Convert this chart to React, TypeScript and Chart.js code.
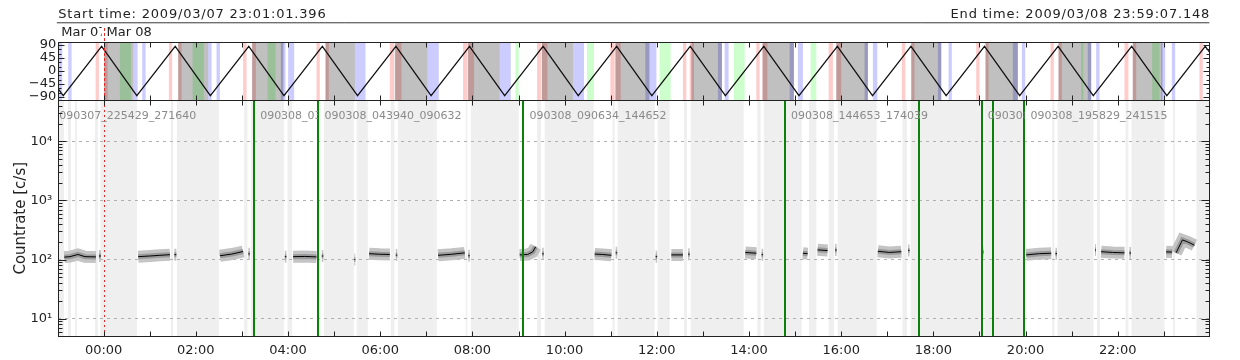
import React, { useEffect, useRef } from 'react';
import { Chart, registerables } from 'chart.js';

Chart.register(...registerables);

const FONT = "'DejaVu Sans', sans-serif";

// time axis in hours relative to 2009/03/08 00:00
const timeMin = -0.983;
const timeMax = 23.985;
const startLabel = 'Start time: 2009/03/07 23:01:01.396';
const endLabel = 'End time: 2009/03/08 23:59:07.148';
const dayLabels = ['Mar 07', 'Mar 08'];
const dayStarts = [-0.983, 0];
const dayBoundary = 0;

const hourTicks = [0, 2, 4, 6, 8, 10, 12, 14, 16, 18, 20, 22];
const hourTickLabels = ['00:00', '02:00', '04:00', '06:00', '08:00', '10:00', '12:00', '14:00', '16:00', '18:00', '20:00', '22:00'];
const angleTicks = [-90, -45, 0, 45, 90];
const angleTickLabels = ['\u221290', '\u221245', '0', '45', '90'];
const rateTicks = [10, 100, 1000, 10000];
const rateTickLabels = ['10\u00b9', '10\u00b2', '10\u00b3', '10\u2074'];

// top panel: orbit angle (triangle) vertices
const angleT = [-0.983, -0.876, -0.043, 0.720, 1.553, 2.316, 3.149, 3.912, 4.745, 5.508, 6.341, 7.104, 7.937, 8.700, 9.533, 10.296, 11.129, 11.892, 12.725, 13.488, 14.321, 15.084, 15.917, 16.680, 17.513, 18.276, 19.109, 19.872, 20.705, 21.468, 22.301, 23.064, 23.897, 23.985];
const angleV = [-62, -85, 85, -85, 85, -85, 85, -85, 85, -85, 85, -85, 85, -85, 85, -85, 85, -85, 85, -85, 85, -85, 85, -85, 85, -85, 85, -85, 85, -85, 85, -85, 85, 66];

// top panel shaded intervals [start, end] in hours
const grayBands = [[0.013, 0.642], [1.618, 2.268], [3.222, 3.900], [4.814, 5.450], [6.316, 7.025], [7.906, 8.593], [9.510, 10.182], [11.102, 11.840], [12.750, 13.413], [14.296, 14.974], [15.894, 16.579], [17.520, 18.171], [19.131, 19.832], [20.714, 21.423], [22.325, 22.968]];
const pinkBands = [[-0.173, -0.102], [0.013, 0.087], [1.416, 1.487], [1.618, 1.691], [3.027, 3.101], [3.222, 3.302], [4.618, 4.690], [4.814, 4.885], [6.208, 6.301], [6.330, 6.462], [7.797, 7.892], [7.906, 8.036], [9.402, 9.497], [9.510, 9.627], [10.993, 11.086], [11.102, 11.217], [12.568, 12.641], [12.714, 12.807], [14.159, 14.230], [14.289, 14.398], [15.727, 15.820], [15.894, 16.002], [17.316, 17.390], [17.520, 17.591], [18.929, 19.001], [19.131, 19.196], [20.541, 20.612], [20.714, 20.786], [22.145, 22.231], [22.325, 22.399], [23.771, 23.843]];
const blueBands = [[-0.983, -0.898], [-0.768, -0.694], [0.642, 0.737], [0.837, 0.911], [2.268, 2.342], [2.450, 2.522], [3.844, 3.946], [4.003, 4.133], [5.449, 5.681], [7.025, 7.270], [8.593, 8.832], [10.182, 10.421], [11.752, 11.991], [13.326, 13.413], [13.472, 13.558], [14.881, 14.974], [15.061, 15.169], [16.507, 16.579], [16.687, 16.783], [18.097, 18.171], [18.329, 18.400], [19.723, 19.832], [19.919, 19.992], [21.349, 21.423], [21.531, 21.603], [22.941, 23.028], [23.172, 23.244]];
const greenBands = [[0.353, 0.592], [1.930, 2.175], [3.556, 3.730], [8.933, 9.005], [10.486, 10.638], [12.062, 12.301], [13.673, 13.905], [15.337, 15.460], [21.203, 21.253], [22.746, 22.905]];

// main panel: no-data (light gray) intervals
const idleBands = [[-0.983, -0.861], [-0.774, -0.709], [-0.622, -0.579], [-0.189, -0.124], [-0.069, 0.722], [1.46, 1.51], [1.589, 2.500], [3.05, 3.12], [3.194, 3.910], [3.99, 4.09], [4.64, 4.71], [4.778, 5.428], [5.49, 5.73], [6.23, 6.31], [6.381, 7.227], [7.855, 7.89], [7.964, 9.005], [9.40, 9.49], [9.569, 10.631], [11.04, 11.085], [11.151, 11.954], [12.019, 12.279], [12.59, 12.655], [12.735, 13.884], [14.18, 14.25], [14.318, 15.142], [15.30, 15.46], [15.73, 15.845], [15.923, 16.769], [17.33, 17.425], [17.506, 19.045], [19.110, 19.978], [20.58, 20.625], [20.693, 21.473], [21.55, 21.615], [22.17, 22.23], [22.297, 23.012], [23.20, 23.24], [23.706, 23.985]];

// count rate (running mean), null = gap
const rateT = [-0.854, -0.731, -0.557, -0.405, -0.167, -0.13, -0.102, -0.059, 0.3,
  0.750, 1.004, 1.221, 1.439, 1.49, 1.535, 1.578, 2.0,
  2.522, 2.782, 3.027, 3.08, 3.140, 3.172, 3.5,
  3.931, 3.964, 4.05, 4.111, 4.365, 4.618, 4.68, 4.733, 4.766, 5.1,
  5.438, 5.460, 5.6, 5.759, 5.991, 6.208, 6.27, 6.338, 6.370, 6.8,
  7.255, 7.552, 7.834, 7.87, 7.910, 7.942, 8.5,
  9.026, 9.200, 9.308, 9.373, 9.44, 9.514, 9.547, 10.1,
  10.653, 10.826, 11.015, 11.06, 11.108, 11.141, 11.5,
  11.975, 12.007, 12.15, 12.316, 12.567, 12.62, 12.680, 12.712, 13.3,
  13.920, 14.159, 14.21, 14.273, 14.306, 14.7,
  15.169, 15.271, 15.38, 15.488, 15.704, 15.78, 15.867, 15.900, 16.3,
  16.795, 17.049, 17.303, 17.38, 17.450, 17.482, 18.3,
  19.065, 19.087, 19.5,
  20.013, 20.301, 20.555, 20.6, 20.648, 20.681, 21.1,
  21.505, 21.526, 21.58, 21.639, 21.884, 22.144, 22.2, 22.253, 22.286, 22.7,
  23.049, 23.179, 23.22, 23.265, 23.402, 23.510, 23.662];
const rateV = [110, 112, 122, 112, 111, null, 115, 115, null,
  112, 115, 118, 121, null, 121, 121, null,
  116, 124, 137, null, 125, 125, null,
  112, 112, null, 112, 113, 111, null, 115, 115, null,
  100, 100, null, 126, 123, 122, null, 119, 119, null,
  118, 123, 130, null, 116, 116, null,
  120, 122, 135, 165, null, 125, 125, null,
  124, 122, 118, null, 130, 130, null,
  112, 112, null, 120, 120, null, 123, 123, null,
  132, 128, null, 121, 121, null,
  128, 126, null, 146, 142, null, 145, 145, null,
  138, 132, 136, null, 143, 143, null,
  134, 134, null,
  120, 126, 128, null, 126, 126, null,
  145, 145, null, 136, 132, 130, null, 129, 129, null,
  135, 134, null, 130, 215, 200, 175];

// observation segments (label, start, label clip end) and boundary lines
const segLabels = ['090307_225429_271640', '090308_031642_043938', '090308_043940_090632', '090308_090634_144652', '090308_144653_174039', '090308_190301_195827', '090308_195829_241515'];
const segStart = [-1.092, 3.265, 4.661, 9.109, 14.781, 19.050, 19.975];
const segEnd = [3.265, 4.653, 9.098, 14.787, 19.050, 19.976, 24.254];
const greenLines = [3.265, 4.653, 9.098, 14.787, 17.677, 19.050, 19.303, 19.976];

function fillBands(ctx: any, x: any, a: any, bands: number[][], color: string) {
  ctx.fillStyle = color;
  for (const [s, e] of bands) {
    const x0 = x.getPixelForValue(s);
    const x1 = x.getPixelForValue(e);
    ctx.fillRect(x0, a.top, x1 - x0, a.bottom - a.top);
  }
}

function frameAndTicks(ctx: any, chart: any, yTickList: { v: number; len: number }[]) {
  const a = chart.chartArea;
  const x = chart.scales.x;
  const y = chart.scales.y;
  const L = Math.floor(a.left) + 0.5;
  const R = Math.floor(a.right) + 0.5;
  const T = Math.floor(a.top) + 0.5;
  const B = Math.floor(a.bottom) + 0.5;
  ctx.save();
  ctx.strokeStyle = '#222';
  ctx.lineWidth = 1;
  ctx.strokeRect(L, T, R - L, B - T);
  ctx.beginPath();
  for (let h = Math.ceil(timeMin); h <= Math.floor(timeMax); h++) {
    const px = Math.round(x.getPixelForValue(h)) + 0.5;
    ctx.moveTo(px, T); ctx.lineTo(px, T + 5);
    ctx.moveTo(px, B); ctx.lineTo(px, B - 5);
  }
  for (const t of yTickList) {
    const py = Math.round(y.getPixelForValue(t.v)) + 0.5;
    if (py < T - 0.1 || py > B + 0.1) continue;
    ctx.moveTo(L, py); ctx.lineTo(L + t.len, py);
    ctx.moveTo(R, py); ctx.lineTo(R - t.len, py);
  }
  ctx.stroke();
  ctx.restore();
}

const noPad = (s: any) => { s.paddingTop = 0; s.paddingBottom = 0; s.paddingLeft = 0; s.paddingRight = 0; };

const topDeco = {
  id: 'topDeco',
  beforeDatasetsDraw(chart: any) {
    const { ctx, chartArea: a, scales: { x } } = chart;
    ctx.save();
    ctx.beginPath();
    ctx.rect(a.left, a.top, a.right - a.left, a.bottom - a.top);
    ctx.clip();
    ctx.fillStyle = '#fff';
    ctx.fillRect(a.left, a.top, a.right - a.left, a.bottom - a.top);
    ctx.globalCompositeOperation = 'multiply';
    fillBands(ctx, x, a, grayBands, '#c0c0c0');
    fillBands(ctx, x, a, greenBands, '#ccffcc');
    fillBands(ctx, x, a, blueBands, '#ccccff');
    fillBands(ctx, x, a, pinkBands, '#ffcccc');
    ctx.restore();
  },
  afterDraw(chart: any) {
    const { ctx, chartArea: a, scales: { x } } = chart;
    ctx.save();
    ctx.fillStyle = '#222';
    ctx.font = `13px ${FONT}`;
    ctx.textBaseline = 'alphabetic';
    (ctx as any).letterSpacing = '0.8px';
    ctx.textAlign = 'left';
    ctx.fillText(startLabel, a.left, 18);
    ctx.textAlign = 'right';
    ctx.fillText(endLabel, a.right + 0.8, 18);
    (ctx as any).letterSpacing = '0px';
    ctx.lineWidth = 1;
    ctx.strokeStyle = '#707070';
    ctx.beginPath(); ctx.moveTo(a.left - 1.5, 22.5); ctx.lineTo(a.right, 22.5); ctx.stroke();
    ctx.strokeStyle = '#c8c8c8';
    ctx.beginPath(); ctx.moveTo(a.left - 1.5, 23.5); ctx.lineTo(a.right, 23.5); ctx.stroke();
    ctx.textAlign = 'left';
    ctx.font = `13px ${FONT}`;
    for (let i = 0; i < dayLabels.length; i++) {
      const x0 = x.getPixelForValue(dayStarts[i]) + 3;
      const x1 = i + 1 < dayStarts.length ? x.getPixelForValue(dayStarts[i + 1]) - 2 : a.right;
      ctx.save();
      ctx.beginPath(); ctx.rect(x0 - 1, 24, x1 - x0 + 1, 17); ctx.clip();
      ctx.fillText(dayLabels[i], x0, 36);
      ctx.restore();
    }
    const bx = Math.round(x.getPixelForValue(dayBoundary)) + 0.5;
    ctx.strokeStyle = 'rgb(235,40,40)';
    ctx.setLineDash([3, 2]);
    ctx.beginPath(); ctx.moveTo(bx, 28); ctx.lineTo(bx, a.bottom); ctx.stroke();
    ctx.setLineDash([]);
    ctx.restore();
    const yt: { v: number; len: number }[] = [];
    for (let v = -90; v <= 90; v += 15) yt.push({ v, len: v % 45 === 0 ? 6 : 3 });
    frameAndTicks(ctx, chart, yt);
  },
};

const mainDeco = {
  id: 'mainDeco',
  beforeDraw(chart: any) {
    const { ctx, chartArea: a, scales: { x } } = chart;
    ctx.save();
    ctx.fillStyle = '#fff';
    ctx.fillRect(a.left, a.top, a.right - a.left, a.bottom - a.top);
    ctx.beginPath();
    ctx.rect(a.left, a.top, a.right - a.left, a.bottom - a.top);
    ctx.clip();
    fillBands(ctx, x, a, idleBands, '#efefef');
    const bx = Math.round(x.getPixelForValue(dayBoundary)) + 0.5;
    ctx.strokeStyle = 'rgb(235,40,40)';
    ctx.setLineDash([2, 3]);
    ctx.beginPath(); ctx.moveTo(bx, a.top); ctx.lineTo(bx, a.bottom); ctx.stroke();
    ctx.restore();
  },
  afterDatasetsDraw(chart: any) {
    const { ctx, chartArea: a, scales: { x } } = chart;
    ctx.save();
    ctx.beginPath();
    ctx.rect(a.left, a.top, a.right - a.left, a.bottom - a.top);
    ctx.clip();
    ctx.strokeStyle = 'rgb(10,130,10)';
    ctx.lineWidth = 2;
    ctx.beginPath();
    for (const t of greenLines) {
      const px = Math.round(x.getPixelForValue(t));
      ctx.moveTo(px, a.top); ctx.lineTo(px, a.bottom);
    }
    ctx.stroke();
    ctx.font = `11px ${FONT}`;
    ctx.fillStyle = '#8a8a8a';
    ctx.textBaseline = 'middle';
    ctx.textAlign = 'left';
    for (let i = 0; i < segLabels.length; i++) {
      const x0 = x.getPixelForValue(segStart[i]) + 6;
      const x1 = x.getPixelForValue(segEnd[i]);
      const cl = Math.max(x0 - 1, a.left);
      ctx.save();
      ctx.beginPath(); ctx.rect(cl, a.top, x1 - cl, 30); ctx.clip();
      ctx.fillText(segLabels[i], x0, a.top + 15.7);
      ctx.restore();
    }
    ctx.restore();
  },
  afterDraw(chart: any) {
    const yt: { v: number; len: number }[] = [];
    for (let e = 0; e <= 4; e++) for (let k = 1; k <= 9; k++) yt.push({ v: k * Math.pow(10, e), len: k === 1 ? 8 : 4 });
    frameAndTicks(chart.ctx, chart, yt);
  },
};

const tickFont = { family: FONT, size: 13 };

function topConfig(): any {
  return {
    type: 'line',
    data: {
      datasets: [{
        data: angleT.map((t, i) => ({ x: t, y: angleV[i] })),
        borderColor: '#111', borderWidth: 1.2, pointRadius: 0, tension: 0,
      }],
    },
    options: {
      animation: false, responsive: false, events: [],
      layout: { padding: { left: 0, right: 30.7, top: 42, bottom: 1 } },
      plugins: { legend: { display: false }, tooltip: { enabled: false } },
      scales: {
        x: { type: 'linear', min: timeMin, max: timeMax, display: false },
        y: {
          type: 'linear', min: -100, max: 100,
          afterFit: (s: any) => { s.width = 58.3; noPad(s); },
          afterBuildTicks: (s: any) => { s.ticks = angleTicks.map((v) => ({ value: v })); },
          grid: { display: false, drawTicks: false },
          border: { display: false },
          ticks: { padding: 2, font: tickFont, color: '#222', autoSkip: false, callback: (_v: any, i: number) => angleTickLabels[i] },
        },
      },
    },
    plugins: [topDeco],
  };
}

function mainConfig(): any {
  const pts = rateT.map((t, i) => ({ x: t, y: rateV[i] }));
  return {
    type: 'line',
    data: {
      datasets: [
        { data: pts.map((p) => ({ ...p })), borderColor: '#000', borderWidth: 1, pointRadius: 0, spanGaps: false, tension: 0, order: 0 },
        { data: pts.map((p) => ({ ...p })), borderColor: '#9a9a9a', borderWidth: 5, borderCapStyle: 'butt', pointRadius: 0, spanGaps: false, tension: 0, order: 1 },
        { data: pts.map((p) => ({ ...p })), borderColor: '#c4c4c4', borderWidth: 12, borderCapStyle: 'butt', pointRadius: 0, spanGaps: false, tension: 0, order: 2 },
      ],
    },
    options: {
      animation: false, responsive: false, events: [],
      layout: { padding: { left: 0, right: 30.7, top: 0, bottom: 0 } },
      plugins: { legend: { display: false }, tooltip: { enabled: false } },
      scales: {
        x: {
          type: 'linear', min: timeMin, max: timeMax,
          afterFit: (s: any) => { s.height = 23.5; noPad(s); },
          afterBuildTicks: (s: any) => { s.ticks = hourTicks.map((v) => ({ value: v })); },
          grid: { display: false, drawTicks: false },
          border: { display: false },
          ticks: { padding: 6, font: tickFont, color: '#222', autoSkip: false, maxRotation: 0, callback: (_v: any, i: number) => hourTickLabels[i] },
        },
        y: {
          type: 'logarithmic', min: 5, max: 50000,
          afterFit: (s: any) => { s.width = 58.3; noPad(s); },
          afterBuildTicks: (s: any) => { s.ticks = rateTicks.map((v) => ({ value: v })); },
          grid: { display: true, drawTicks: false, color: '#b0b0b0', lineWidth: 1 },
          border: { display: false, dash: [3, 4] },
          ticks: { padding: 6, font: tickFont, color: '#222', autoSkip: false, callback: (_v: any, i: number) => rateTickLabels[i] },
          title: { display: true, text: 'Countrate [c/s]', font: { family: FONT, size: 15 }, color: '#222', padding: { top: 12, bottom: 0 } },
        },
      },
    },
    plugins: [mainDeco],
  };
}

export default function App() {
  const topRef = useRef<HTMLCanvasElement>(null);
  const mainRef = useRef<HTMLCanvasElement>(null);
  useEffect(() => {
    const top = new Chart(topRef.current as HTMLCanvasElement, topConfig());
    const main = new Chart(mainRef.current as HTMLCanvasElement, mainConfig());
    return () => { top.destroy(); main.destroy(); };
  }, []);
  return (
    <div style={{ position: 'fixed', left: 0, top: 0, width: 1240, height: 360, background: '#fff' }}>
      <canvas ref={topRef} width={1240} height={101} style={{ position: 'absolute', left: 0, top: 0, width: 1240, height: 101 }} />
      <canvas ref={mainRef} width={1240} height={260} style={{ position: 'absolute', left: 0, top: 100, width: 1240, height: 260 }} />
    </div>
  );
}
